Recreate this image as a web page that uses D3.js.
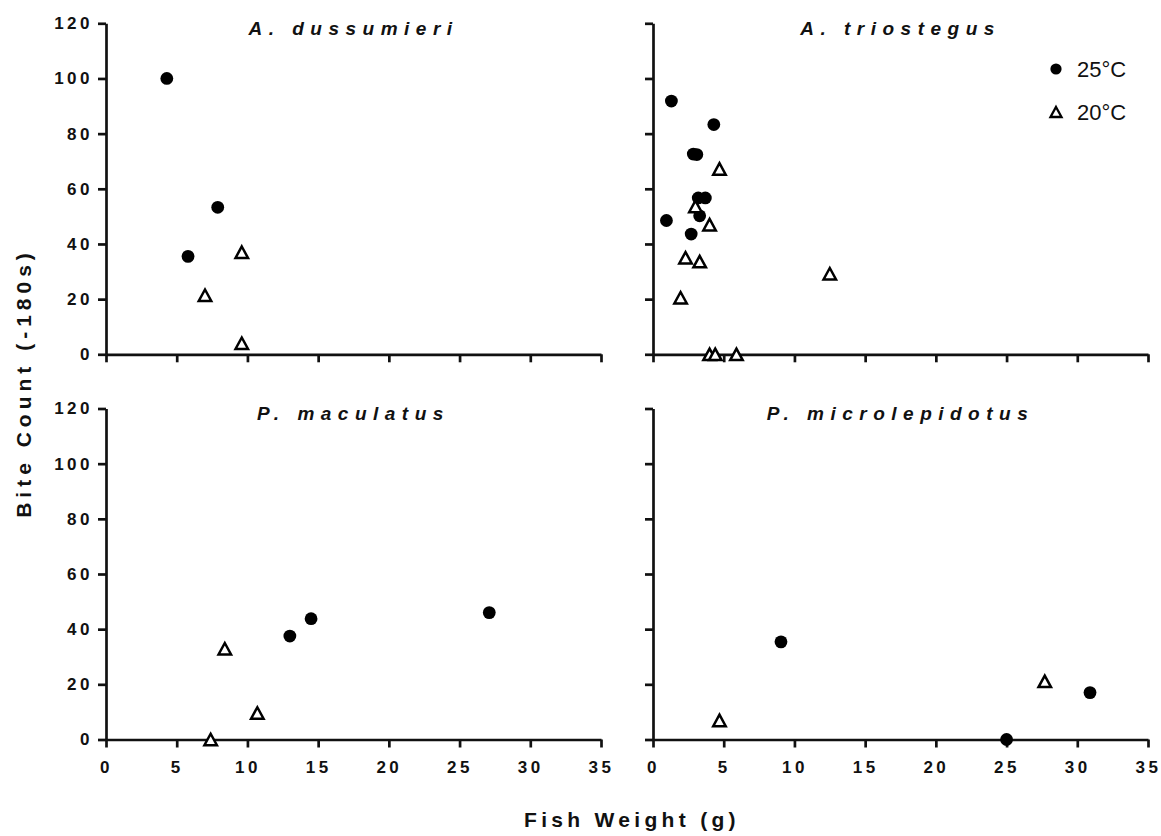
<!DOCTYPE html>
<html>
<head>
<meta charset="utf-8">
<script src="https://cdn.jsdelivr.net/npm/d3@7"></script>
<style>
  body { margin: 0; background: #fff; }
  svg { display: block; font-family: "Liberation Sans", Arial, sans-serif; }
  .axis path, .axis line { stroke: #111; stroke-width: 2.7px; }
  .axis text { font-size: 17px; font-weight: bold; letter-spacing: 3.5px; fill: #111; }
  .panel-title { font-size: 19px; font-weight: bold; font-style: italic; letter-spacing: 6.5px; fill: #111; }
  .axis-title { font-size: 21px; font-weight: bold; letter-spacing: 4.3px; fill: #111; }
  .y-title { letter-spacing: 5px; }
  .legend-text { font-size: 22px; fill: #111; }
</style>
</head>
<body>
<svg id="chart" width="1161" height="836"></svg>
<script>
const SPECIES = ["A. dussumieri", "A. triostegus", "P. maculatus", "P. microlepidotus"];
const TEMPS = ["25°C", "20°C"];
const X_TICKS = [0, 5, 10, 15, 20, 25, 30, 35];
const Y_TICKS = [0, 20, 40, 60, 80, 100, 120];

// [fish weight (g), bite count]
const dussumieri25 = [[4.3, 100], [5.8, 35.5], [7.9, 53.3]];
const dussumieri20 = [[7.0, 21.4], [9.6, 37], [9.6, 4]];
const triostegus25 = [[1.3, 91.8], [4.3, 83.3], [2.85, 72.6], [3.1, 72.4], [3.2, 56.7], [3.7, 56.7], [3.3, 50.2], [0.95, 48.5], [2.7, 43.6]];
const triostegus20 = [[4.7, 67.2], [3.0, 53.6], [4.0, 47], [2.3, 35], [3.3, 33.6], [1.95, 20.5], [12.5, 29.2], [4.0, 0], [4.4, 0], [5.9, 0]];
const maculatus25 = [[13, 37.5], [14.5, 43.8], [27.1, 46]];
const maculatus20 = [[8.4, 32.9], [10.7, 9.6], [7.4, 0]];
const microlepidotus25 = [[9.05, 35.4], [25, 0], [30.9, 17]];
const microlepidotus20 = [[4.7, 6.9], [27.7, 21.1]];

const series25 = [dussumieri25, triostegus25, maculatus25, microlepidotus25];
const series20 = [dussumieri20, triostegus20, maculatus20, microlepidotus20];

const svg = d3.select("#chart");
const colX = [106, 653];
const rowY = [23.3, 408.5];
const panelW = 495;
const panelH = 331;

function trianglePath(w, h) {
  return `M0,${-h / 2}L${w / 2},${h / 2}L${-w / 2},${h / 2}Z`;
}

function drawPanel(i) {
  const col = i % 2;
  const row = Math.floor(i / 2);
  const g = svg.append("g").attr("transform", `translate(${colX[col]},${rowY[row]})`);

  const x = d3.scaleLinear().domain([0, 35]).range([0, panelW]);
  const y = d3.scaleLinear().domain([0, 120]).range([panelH, 0]);

  const xAxis = d3.axisBottom(x).tickValues(X_TICKS).tickSize(8).tickPadding(13).tickSizeOuter(0);
  if (row === 0) xAxis.tickFormat(() => "");
  const yAxis = d3.axisLeft(y).tickValues(Y_TICKS).tickSize(8).tickPadding(5).tickSizeOuter(0);
  if (col === 1) yAxis.tickFormat(() => "");

  g.append("g").attr("class", "axis").attr("transform", `translate(0,${panelH})`).call(xAxis);
  g.append("g").attr("class", "axis").call(yAxis);

  g.append("text")
    .attr("class", "panel-title")
    .attr("x", panelW / 2)
    .attr("y", 11.5)
    .attr("text-anchor", "middle")
    .text(SPECIES[i]);

  g.selectAll(".dot")
    .data(series25[i])
    .join("circle")
    .attr("class", "dot")
    .attr("cx", (d) => x(d[0]))
    .attr("cy", (d) => y(d[1]))
    .attr("r", 6.4)
    .attr("fill", "#000");

  g.selectAll(".tri")
    .data(series20[i])
    .join("path")
    .attr("class", "tri")
    .attr("d", trianglePath(12.5, 11.5))
    .attr("transform", (d) => `translate(${x(d[0])},${y(d[1])})`)
    .attr("fill", "#fff")
    .attr("stroke", "#000")
    .attr("stroke-width", 2.5);
}

SPECIES.forEach((d, i) => drawPanel(i));

// legend, top-right panel
const legend = svg.append("g").attr("transform", "translate(1056,69)");
legend.append("circle").attr("r", 5.6).attr("fill", "#000");
legend.append("path")
  .attr("d", trianglePath(11, 10))
  .attr("transform", "translate(0,43)")
  .attr("fill", "#fff").attr("stroke", "#000").attr("stroke-width", 2.3);
legend.selectAll(".legend-text")
  .data(TEMPS)
  .join("text")
  .attr("class", "legend-text")
  .attr("x", 21)
  .attr("y", (d, i) => i * 43)
  .attr("dy", "0.36em")
  .text((d) => d);

svg.append("text")
  .attr("class", "axis-title y-title")
  .attr("transform", "translate(31,383) rotate(-90)")
  .attr("text-anchor", "middle")
  .text("Bite Count (-180s)");

svg.append("text")
  .attr("class", "axis-title")
  .attr("x", 632)
  .attr("y", 827)
  .attr("text-anchor", "middle")
  .text("Fish Weight (g)");
</script>
</body>
</html>
